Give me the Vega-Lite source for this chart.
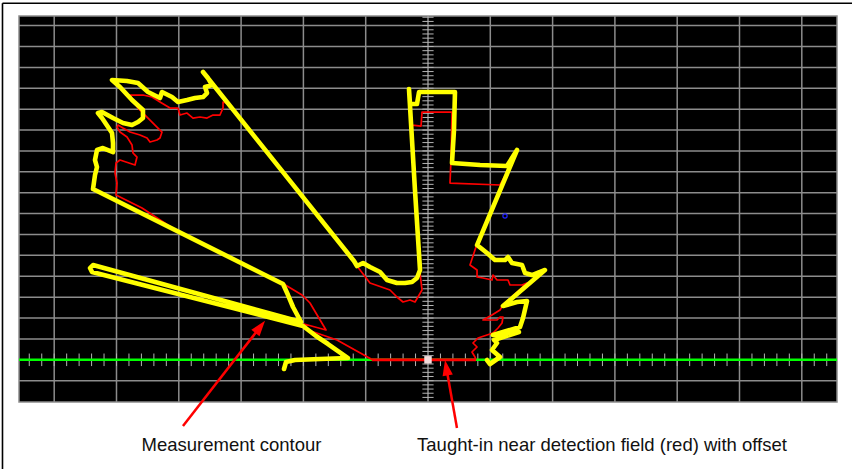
{
  "$schema": "https://vega.github.io/schema/vega-lite/v6.json",
  "width": 818,
  "height": 386,
  "autosize": {"type": "none"},
  "padding": {"left": 19, "top": 16, "right": 15, "bottom": 67},
  "background": "white",
  "config": {"view": {"fill": "black", "stroke": "#8c8c8c", "strokeWidth": 1.5}},
  "datasets": {
    "gridx": [{"v": -6}, {"v": -5}, {"v": -4}, {"v": -3}, {"v": -2}, {"v": -1}, {"v": 0}, {"v": 1}, {"v": 2}, {"v": 3}, {"v": 4}, {"v": 5}, {"v": 6}],
    "gridy": [{"v": -1}, {"v": 0}, {"v": 1}, {"v": 2}, {"v": 3}, {"v": 4}, {"v": 5}, {"v": 6}, {"v": 7}, {"v": 8}, {"v": 9}, {"v": 10}, {"v": 11}, {"v": 12}, {"v": 13}, {"v": 14}, {"v": 15}, {"v": 16}],
    "xticks": [{"t": -6.4}, {"t": -6.2}, {"t": -6.0}, {"t": -5.8}, {"t": -5.6}, {"t": -5.4}, {"t": -5.2}, {"t": -5.0}, {"t": -4.8}, {"t": -4.6}, {"t": -4.4}, {"t": -4.2}, {"t": -4.0}, {"t": -3.8}, {"t": -3.6}, {"t": -3.4}, {"t": -3.2}, {"t": -3.0}, {"t": -2.8}, {"t": -2.6}, {"t": -2.4}, {"t": -2.2}, {"t": -2.0}, {"t": -1.8}, {"t": -1.6}, {"t": -1.4}, {"t": -1.2}, {"t": -1.0}, {"t": -0.8}, {"t": -0.6}, {"t": -0.4}, {"t": -0.2}, {"t": 0.2}, {"t": 0.4}, {"t": 0.6}, {"t": 0.8}, {"t": 1.0}, {"t": 1.2}, {"t": 1.4}, {"t": 1.6}, {"t": 1.8}, {"t": 2.0}, {"t": 2.2}, {"t": 2.4}, {"t": 2.6}, {"t": 2.8}, {"t": 3.0}, {"t": 3.2}, {"t": 3.4}, {"t": 3.6}, {"t": 3.8}, {"t": 4.0}, {"t": 4.2}, {"t": 4.4}, {"t": 4.6}, {"t": 4.8}, {"t": 5.0}, {"t": 5.2}, {"t": 5.4}, {"t": 5.6}, {"t": 5.8}, {"t": 6.0}, {"t": 6.2}, {"t": 6.4}],
    "yticks": [{"t": -1.8}, {"t": -1.6}, {"t": -1.4}, {"t": -1.2}, {"t": -1.0}, {"t": -0.8}, {"t": -0.6}, {"t": -0.4}, {"t": -0.2}, {"t": 0.2}, {"t": 0.4}, {"t": 0.6}, {"t": 0.8}, {"t": 1.0}, {"t": 1.2}, {"t": 1.4}, {"t": 1.6}, {"t": 1.8}, {"t": 2.0}, {"t": 2.2}, {"t": 2.4}, {"t": 2.6}, {"t": 2.8}, {"t": 3.0}, {"t": 3.2}, {"t": 3.4}, {"t": 3.6}, {"t": 3.8}, {"t": 4.0}, {"t": 4.2}, {"t": 4.4}, {"t": 4.6}, {"t": 4.8}, {"t": 5.0}, {"t": 5.2}, {"t": 5.4}, {"t": 5.6}, {"t": 5.8}, {"t": 6.0}, {"t": 6.2}, {"t": 6.4}, {"t": 6.6}, {"t": 6.8}, {"t": 7.0}, {"t": 7.2}, {"t": 7.4}, {"t": 7.6}, {"t": 7.8}, {"t": 8.0}, {"t": 8.2}, {"t": 8.4}, {"t": 8.6}, {"t": 8.8}, {"t": 9.0}, {"t": 9.2}, {"t": 9.4}, {"t": 9.6}, {"t": 9.8}, {"t": 10.0}, {"t": 10.2}, {"t": 10.4}, {"t": 10.6}, {"t": 10.8}, {"t": 11.0}, {"t": 11.2}, {"t": 11.4}, {"t": 11.6}, {"t": 11.8}, {"t": 12.0}, {"t": 12.2}, {"t": 12.4}, {"t": 12.6}, {"t": 12.8}, {"t": 13.0}, {"t": 13.2}, {"t": 13.4}, {"t": 13.6}, {"t": 13.8}, {"t": 14.0}, {"t": 14.2}, {"t": 14.4}, {"t": 14.6}, {"t": 14.8}, {"t": 15.0}, {"t": 15.2}, {"t": 15.4}, {"t": 15.6}, {"t": 15.8}, {"t": 16.0}, {"t": 16.2}, {"t": 16.4}],
    "red": [
      {"x": 0.77, "y": 0.01}, {"x": -0.899, "y": 0.01}, {"x": -1.461, "y": 0.948}, {"x": -1.974, "y": 1.474}, {"x": -1.99, "y": 1.714}, {"x": -1.637, "y": 1.427}, {"x": -1.894, "y": 2.719}, {"x": -2.022, "y": 3.102}, {"x": -2.343, "y": 3.676}, {"x": -3.981, "y": 6.07}, {"x": -4.591, "y": 7.267}, {"x": -5.008, "y": 7.889}, {"x": -4.992, "y": 8.463}, {"x": -5.024, "y": 8.942}, {"x": -5.008, "y": 9.421}, {"x": -4.944, "y": 9.564}, {"x": -4.703, "y": 9.325}, {"x": -4.671, "y": 9.708}, {"x": -4.735, "y": 9.9}, {"x": -4.751, "y": 10.283}, {"x": -4.831, "y": 10.666}, {"x": -4.944, "y": 10.905}, {"x": -4.992, "y": 11.144}, {"x": -4.976, "y": 11.24}, {"x": -4.896, "y": 11.096}, {"x": -4.783, "y": 10.905}, {"x": -4.623, "y": 10.761}, {"x": -4.51, "y": 10.618}, {"x": -4.462, "y": 10.426}, {"x": -4.35, "y": 10.522}, {"x": -4.302, "y": 10.618}, {"x": -4.27, "y": 10.905}, {"x": -4.35, "y": 11.144}, {"x": -4.51, "y": 11.623}, {"x": -4.655, "y": 12.054}, {"x": -4.783, "y": 12.676}, {"x": -4.575, "y": 12.676}, {"x": -4.43, "y": 12.58}, {"x": -4.302, "y": 12.341}, {"x": -4.141, "y": 12.054}, {"x": -4.013, "y": 12.054}, {"x": -3.981, "y": 11.719}, {"x": -3.868, "y": 11.814}, {"x": -3.772, "y": 11.575}, {"x": -3.66, "y": 11.623}, {"x": -3.547, "y": 11.575}, {"x": -3.451, "y": 11.719}, {"x": -3.339, "y": 11.719}, {"x": -3.29, "y": 12.054}, {"x": -3.29, "y": 12.341}, {"x": -3.194, "y": 12.245}, {"x": -1.14, "y": 4.49}, {"x": -0.931, "y": 3.676}, {"x": -0.61, "y": 3.341}, {"x": -0.498, "y": 3.006}, {"x": -0.401, "y": 2.767}, {"x": -0.289, "y": 2.863}, {"x": -0.209, "y": 2.767}, {"x": -0.161, "y": 3.006}, {"x": -0.096, "y": 3.341}, {"x": -0.128, "y": 4.155}, {"x": -0.289, "y": 12.054}, {"x": -0.257, "y": 11.24}, {"x": -0.112, "y": 11.192}, {"x": -0.096, "y": 11.862}, {"x": 0.385, "y": 11.862}, {"x": 0.369, "y": 9.564}, {"x": 0.353, "y": 8.463}, {"x": 1.156, "y": 8.368}, {"x": 1.268, "y": 8.99}, {"x": 0.77, "y": 5.4}, {"x": 0.674, "y": 4.538}, {"x": 0.787, "y": 4.299}, {"x": 0.787, "y": 3.964}, {"x": 0.883, "y": 3.916}, {"x": 1.027, "y": 3.82}, {"x": 1.043, "y": 4.059}, {"x": 1.108, "y": 3.82}, {"x": 1.284, "y": 3.82}, {"x": 1.316, "y": 3.581}, {"x": 1.509, "y": 3.581}, {"x": 1.589, "y": 3.676}, {"x": 1.204, "y": 2.623}, {"x": 1.156, "y": 2.384}, {"x": 1.027, "y": 2.145}, {"x": 0.883, "y": 1.905}, {"x": 1.108, "y": 1.905}, {"x": 1.156, "y": 2.049}, {"x": 1.204, "y": 2.049}, {"x": 1.188, "y": 1.762}, {"x": 1.124, "y": 1.522}, {"x": 1.043, "y": 1.283}, {"x": 0.803, "y": 1.044}, {"x": 0.722, "y": 0.804}, {"x": 0.787, "y": 0.613}, {"x": 0.706, "y": 0.373}, {"x": 0.754, "y": 0.134}, {"x": 0.77, "y": 0.01}
    ],
    "redground": [{"x": -0.899, "x2": 0.77}],
    "yellow": [
      {"x": -2.311, "y": -0.44}, {"x": -2.279, "y": -0.105}, {"x": -2.135, "y": -0.01}, {"x": -1.734, "y": 0.038}, {"x": -1.284, "y": 0.086}, {"x": -1.605, "y": 0.756}, {"x": -1.798, "y": 1.139}, {"x": -2.006, "y": 1.618}, {"x": -5.393, "y": 4.203}, {"x": -5.425, "y": 4.394}, {"x": -5.377, "y": 4.538}, {"x": -2.038, "y": 1.809}, {"x": -2.167, "y": 2.528}, {"x": -2.247, "y": 3.102}, {"x": -2.327, "y": 3.629}, {"x": -5.377, "y": 8.176}, {"x": -5.345, "y": 8.847}, {"x": -5.313, "y": 9.229}, {"x": -5.345, "y": 9.564}, {"x": -5.313, "y": 10.043}, {"x": -5.217, "y": 10.139}, {"x": -5.056, "y": 9.947}, {"x": -5.056, "y": 10.378}, {"x": -5.072, "y": 10.857}, {"x": -5.136, "y": 11.144}, {"x": -5.233, "y": 11.575}, {"x": -5.297, "y": 11.814}, {"x": -5.233, "y": 11.862}, {"x": -5.056, "y": 11.575}, {"x": -4.896, "y": 11.336}, {"x": -4.751, "y": 11.24}, {"x": -4.655, "y": 11.384}, {"x": -4.575, "y": 11.575}, {"x": -4.575, "y": 11.958}, {"x": -4.751, "y": 12.437}, {"x": -4.944, "y": 13.059}, {"x": -5.072, "y": 13.394}, {"x": -4.831, "y": 13.346}, {"x": -4.655, "y": 13.251}, {"x": -4.494, "y": 12.82}, {"x": -4.302, "y": 12.532}, {"x": -4.27, "y": 12.82}, {"x": -4.109, "y": 12.58}, {"x": -4.013, "y": 12.341}, {"x": -3.868, "y": 12.437}, {"x": -3.74, "y": 12.532}, {"x": -3.611, "y": 12.58}, {"x": -3.547, "y": 12.772}, {"x": -3.579, "y": 13.059}, {"x": -3.467, "y": 13.155}, {"x": -3.531, "y": 13.49}, {"x": -3.611, "y": 13.777}, {"x": -1.188, "y": 4.73}, {"x": -1.14, "y": 4.49}, {"x": -1.043, "y": 4.634}, {"x": -0.931, "y": 4.442}, {"x": -0.77, "y": 4.203}, {"x": -0.658, "y": 3.82}, {"x": -0.498, "y": 3.676}, {"x": -0.369, "y": 3.676}, {"x": -0.257, "y": 3.724}, {"x": -0.177, "y": 3.916}, {"x": -0.128, "y": 4.299}, {"x": -0.209, "y": 8.128}, {"x": -0.305, "y": 12.963}, {"x": -0.289, "y": 12.245}, {"x": -0.177, "y": 12.245}, {"x": -0.144, "y": 12.82}, {"x": 0.433, "y": 12.82}, {"x": 0.417, "y": 11.001}, {"x": 0.385, "y": 9.421}, {"x": 0.835, "y": 9.325}, {"x": 1.268, "y": 9.277}, {"x": 1.429, "y": 10.043}, {"x": 0.787, "y": 5.495}, {"x": 0.947, "y": 5.113}, {"x": 1.075, "y": 4.778}, {"x": 1.236, "y": 4.778}, {"x": 1.284, "y": 4.921}, {"x": 1.348, "y": 4.634}, {"x": 1.509, "y": 4.538}, {"x": 1.557, "y": 4.155}, {"x": 1.669, "y": 4.059}, {"x": 1.878, "y": 4.299}, {"x": 1.204, "y": 2.575}, {"x": 1.429, "y": 2.767}, {"x": 1.589, "y": 2.815}, {"x": 1.525, "y": 2.001}, {"x": 1.477, "y": 1.57}, {"x": 1.043, "y": 1.187}, {"x": 1.46, "y": 1.33}, {"x": 1.06, "y": 0.95}, {"x": 1.108, "y": 0.804}, {"x": 1.027, "y": 0.469}, {"x": 1.156, "y": 0.134}, {"x": 0.995, "y": -0.201}, {"x": 0.947, "y": -0.01}
    ],
    "arrows": [
      {"x": -3.933, "y": -3.169, "x2": -2.714, "y2": 1.494},
      {"x": 0.465, "y": -3.265, "x2": 0.3, "y2": -0.479}
    ],
    "labels": [
      {"x": -3.154, "y": -4.366, "label": "Measurement contour"},
      {"x": 2.793, "y": -4.366, "label": "Taught-in near detection field (red) with offset"}
    ],
    "frame": [
      {"x": -6.83, "y": 17.07, "x2": 6.95, "y2": 17.07},
      {"x": -6.83, "y": 17.07, "x2": -6.83, "y2": -5.5}
    ]
  },
  "layer": [
    {
      "data": {"name": "gridx"},
      "mark": {"type": "rule", "stroke": "#8c8c8c", "strokeWidth": 1.5},
      "encoding": {
        "x": {"field": "v", "type": "quantitative", "scale": {"domain": [-6.565, 6.565], "nice": false, "zero": false}, "axis": null}
      }
    },
    {
      "data": {"name": "gridy"},
      "mark": {"type": "rule", "stroke": "#8c8c8c", "strokeWidth": 1.5},
      "encoding": {
        "y": {"field": "v", "type": "quantitative", "scale": {"domain": [-2.02, 16.46], "nice": false, "zero": false}, "axis": null}
      }
    },
    {
      "data": {"name": "xticks"},
      "mark": {"type": "rule", "stroke": "#b4b4b4", "strokeWidth": 1},
      "encoding": {
        "x": {"field": "t", "type": "quantitative", "scale": {"domain": [-6.565, 6.565], "nice": false, "zero": false}, "axis": null},
        "y": {"datum": -0.3, "type": "quantitative", "scale": {"domain": [-2.02, 16.46], "nice": false, "zero": false}, "axis": null},
        "y2": {"datum": 0.3}
      }
    },
    {
      "data": {"name": "yticks"},
      "mark": {"type": "rule", "stroke": "#b4b4b4", "strokeWidth": 1},
      "encoding": {
        "y": {"field": "t", "type": "quantitative", "scale": {"domain": [-2.02, 16.46], "nice": false, "zero": false}, "axis": null},
        "x": {"datum": -0.09, "type": "quantitative", "scale": {"domain": [-6.565, 6.565], "nice": false, "zero": false}, "axis": null},
        "x2": {"datum": 0.09}
      }
    },
    {
      "data": {"values": [{}]},
      "mark": {"type": "rule", "stroke": "#00ff00", "strokeWidth": 2.5},
      "encoding": {
        "y": {"datum": 0, "type": "quantitative", "scale": {"domain": [-2.02, 16.46], "nice": false, "zero": false}, "axis": null}
      }
    },
    {
      "data": {"name": "red"},
      "mark": {"type": "line", "stroke": "#ff0000", "strokeWidth": 1.7, "strokeJoin": "round"},
      "encoding": {
        "x": {"field": "x", "type": "quantitative", "scale": {"domain": [-6.565, 6.565], "nice": false, "zero": false}, "axis": null},
        "y": {"field": "y", "type": "quantitative", "scale": {"domain": [-2.02, 16.46], "nice": false, "zero": false}, "axis": null},
        "order": {"value": null}
      }
    },
    {
      "data": {"name": "redground"},
      "mark": {"type": "rule", "stroke": "#ff0000", "strokeWidth": 2.8},
      "encoding": {
        "x": {"field": "x", "type": "quantitative", "scale": {"domain": [-6.565, 6.565], "nice": false, "zero": false}, "axis": null},
        "x2": {"field": "x2"},
        "y": {"datum": 0, "type": "quantitative", "scale": {"domain": [-2.02, 16.46], "nice": false, "zero": false}, "axis": null}
      }
    },
    {
      "data": {"name": "yellow"},
      "mark": {"type": "line", "stroke": "#ffff00", "strokeWidth": 4.6, "strokeJoin": "round", "strokeCap": "round"},
      "encoding": {
        "x": {"field": "x", "type": "quantitative", "scale": {"domain": [-6.565, 6.565], "nice": false, "zero": false}, "axis": null},
        "y": {"field": "y", "type": "quantitative", "scale": {"domain": [-2.02, 16.46], "nice": false, "zero": false}, "axis": null},
        "order": {"value": null}
      }
    },
    {
      "data": {"values": [{"x": 1.236, "y": 6.884}]},
      "mark": {"type": "point", "shape": "circle", "filled": false, "stroke": "#2020ff", "strokeWidth": 1.2, "size": 18, "opacity": 1},
      "encoding": {
        "x": {"field": "x", "type": "quantitative", "scale": {"domain": [-6.565, 6.565], "nice": false, "zero": false}, "axis": null},
        "y": {"field": "y", "type": "quantitative", "scale": {"domain": [-2.02, 16.46], "nice": false, "zero": false}, "axis": null}
      }
    },
    {
      "data": {"values": [{"x": 0, "y": 0}]},
      "mark": {"type": "point", "shape": "square", "filled": true, "fill": "#f2dcdc", "size": 56, "opacity": 1},
      "encoding": {
        "x": {"field": "x", "type": "quantitative", "scale": {"domain": [-6.565, 6.565], "nice": false, "zero": false}, "axis": null},
        "y": {"field": "y", "type": "quantitative", "scale": {"domain": [-2.02, 16.46], "nice": false, "zero": false}, "axis": null}
      }
    },
    {
      "data": {"name": "arrows"},
      "mark": {"type": "rule", "stroke": "#ff0000", "strokeWidth": 2.5},
      "encoding": {
        "x": {"field": "x", "type": "quantitative", "scale": {"domain": [-6.565, 6.565], "nice": false, "zero": false}, "axis": null},
        "y": {"field": "y", "type": "quantitative", "scale": {"domain": [-2.02, 16.46], "nice": false, "zero": false}, "axis": null},
        "x2": {"field": "x2"},
        "y2": {"field": "y2"}
      }
    },
    {
      "data": {"values": [{"x": -2.616, "y": 1.872}]},
      "mark": {"type": "point", "shape": "M0,0L0.6,1.8L-0.6,1.8Z", "filled": true, "fill": "#ff0000", "size": 300, "angle": 38, "opacity": 1},
      "encoding": {
        "x": {"field": "x", "type": "quantitative", "scale": {"domain": [-6.565, 6.565], "nice": false, "zero": false}, "axis": null},
        "y": {"field": "y", "type": "quantitative", "scale": {"domain": [-2.02, 16.46], "nice": false, "zero": false}, "axis": null}
      }
    },
    {
      "data": {"values": [{"x": 0.273, "y": -0.01}]},
      "mark": {"type": "point", "shape": "M0,0L0.6,1.8L-0.6,1.8Z", "filled": true, "fill": "#ff0000", "size": 300, "angle": 350, "opacity": 1},
      "encoding": {
        "x": {"field": "x", "type": "quantitative", "scale": {"domain": [-6.565, 6.565], "nice": false, "zero": false}, "axis": null},
        "y": {"field": "y", "type": "quantitative", "scale": {"domain": [-2.02, 16.46], "nice": false, "zero": false}, "axis": null}
      }
    },
    {
      "data": {"name": "labels"},
      "mark": {"type": "text", "align": "center", "baseline": "alphabetic", "font": "Liberation Sans", "fontSize": 18.5, "fill": "#111111"},
      "encoding": {
        "x": {"field": "x", "type": "quantitative", "scale": {"domain": [-6.565, 6.565], "nice": false, "zero": false}, "axis": null},
        "y": {"field": "y", "type": "quantitative", "scale": {"domain": [-2.02, 16.46], "nice": false, "zero": false}, "axis": null},
        "text": {"field": "label"}
      }
    },
    {
      "data": {"name": "frame"},
      "mark": {"type": "rule", "stroke": "#000000", "strokeWidth": 1.6},
      "encoding": {
        "x": {"field": "x", "type": "quantitative", "scale": {"domain": [-6.565, 6.565], "nice": false, "zero": false}, "axis": null},
        "y": {"field": "y", "type": "quantitative", "scale": {"domain": [-2.02, 16.46], "nice": false, "zero": false}, "axis": null},
        "x2": {"field": "x2"},
        "y2": {"field": "y2"}
      }
    }
  ]
}
